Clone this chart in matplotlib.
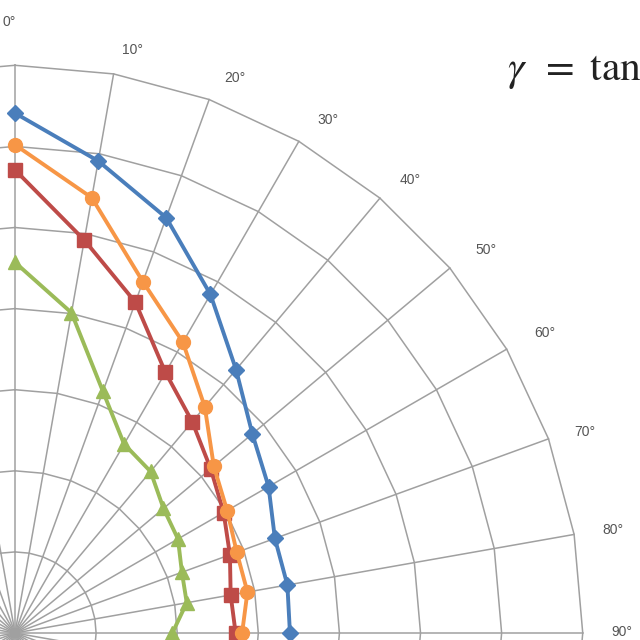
import numpy as np
import matplotlib.pyplot as plt

# angles (degrees from vertical, clockwise) and radial values, one list per series
angles = [0, 10, 20, 30, 40, 50, 60, 70, 80, 90]
blue = [6.41, 5.91, 5.45, 4.82, 4.24, 3.82, 3.61, 3.41, 3.41, 3.39]
orange = [6.02, 5.45, 4.61, 4.14, 3.64, 3.20, 3.02, 2.91, 2.91, 2.80]
red = [5.71, 4.92, 4.34, 3.71, 3.40, 3.15, 2.97, 2.82, 2.70, 2.72]
green = [4.57, 4.01, 3.17, 2.69, 2.60, 2.39, 2.32, 2.19, 2.15, 1.94]
rings = [1, 2, 3, 4, 5, 6, 7]
spoke_angles = list(range(0, 360, 10))
label_angles = [0, 10, 20, 30, 40, 50, 60, 70, 80, 90]

# where the angle labels sit (radius, small angular nudge)
label_r = [7.53, 7.33, 7.36, 7.41, 7.41, 7.49, 7.51, 7.45, 7.48, 7.48]
label_dt = [-0.5, 1.4, 1.6, 1.4, 1.1, 0.9, 0.5, 0.6, 0.2, -0.1]


def to_xy(theta_deg, r):
    t = np.radians(np.asarray(theta_deg, dtype=float))
    r = np.asarray(r, dtype=float)
    return r * np.sin(t), r * np.cos(t)


fig = plt.figure(figsize=(6.4, 6.4), dpi=100)
ax = fig.add_axes([0, 0, 1, 1])
ax.set_xlim(-0.185, 7.706)
ax.set_ylim(-0.086, 7.805)
ax.axis('off')

grid_c = '#a0a0a0'
# polygon rings (radar style)
closed = spoke_angles + [spoke_angles[0]]
for r in rings:
    x, y = to_xy(closed, [r] * len(closed))
    ax.plot(x, y, color=grid_c, lw=1.1, zorder=1)
# spokes
for a in spoke_angles:
    x, y = to_xy([a, a], [0, rings[-1]])
    ax.plot(x, y, color=grid_c, lw=1.1, zorder=1)

# angle labels
for a, lr, dt in zip(label_angles, label_r, label_dt):
    x, y = to_xy(a + dt, lr)
    ax.text(x, y, f'{a}°', ha='center', va='center', fontsize=10,
            color='#555555', family='Liberation Sans')

series = [
    (green, '#9bbb59', '^', 10),
    (red, '#be4b48', 's', 10),
    (orange, '#f79646', 'o', 10),
    (blue, '#4a7ebb', 'D', 8),
]
for vals, col, mk, ms in series:
    x, y = to_xy(angles, vals)
    ax.plot(x, y, color=col, lw=2.8, marker=mk, markersize=ms, zorder=3)

plt.rcParams['mathtext.fontset'] = 'stix'
fig.text(507 / 640, 1 - 80 / 640, r'$\gamma\enspace=\ \mathrm{tan}$', fontsize=30,
         color='#222222', ha='left', va='baseline')

fig.savefig('out.png', dpi=100)
